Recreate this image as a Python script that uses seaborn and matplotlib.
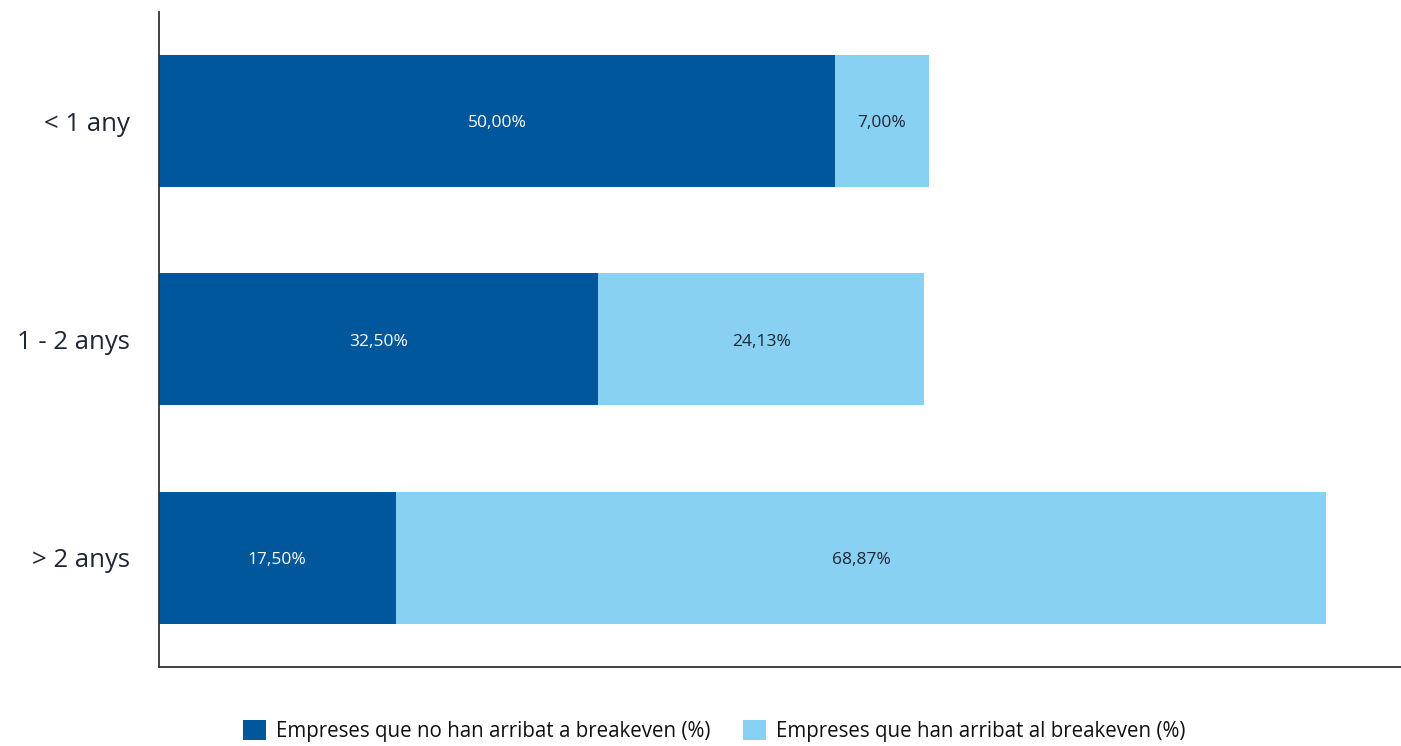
import matplotlib
matplotlib.use("Agg")
import matplotlib.pyplot as plt
import seaborn as sns
import pandas as pd
from matplotlib.patches import Patch

categories = ["< 1 any", "1 - 2 anys", "> 2 anys"]
no_breakeven = [50.00, 32.50, 17.50]
breakeven = [7.00, 24.13, 68.87]
series_names = ["Empreses que no han arribat a breakeven (%)",
                "Empreses que han arribat al breakeven (%)"]

dark = "#01579B"
light = "#89D1F3"

sns.set_theme(style="white")
plt.rcParams["font.family"] = ["Open Sans", "DejaVu Sans"]

df = pd.DataFrame({"cat": categories, "no": no_breakeven, "yes": breakeven})
df["total"] = df["no"] + df["yes"]

fig = plt.figure(figsize=(14.01, 7.46), dpi=100)
ax = fig.add_axes([0.1135, 0.106, 0.8865, 0.878])

# Stacked horizontal bars: full total in light blue, first segment in dark blue on top
sns.barplot(data=df, y="cat", x="total", color=light, orient="h", width=0.605,
            saturation=1, linewidth=0, ax=ax)
sns.barplot(data=df, y="cat", x="no", color=dark, orient="h", width=0.605,
            saturation=1, linewidth=0, ax=ax)

def fmt(v):
    return f"{v:.2f}%".replace(".", ",")

for i, (a, b) in enumerate(zip(no_breakeven, breakeven)):
    ax.text(a / 2, i + 0.01, fmt(a), ha="center", va="center", color="white", fontsize=12.5)
    ax.text(a + b / 2, i + 0.01, fmt(b), ha="center", va="center", color="#1e2533", fontsize=12.5)

ax.set_xlim(0, 91.9)
ax.set_ylim(2.5, -0.5)
ax.set_xlabel("")
ax.set_ylabel("")
ax.set_xticks([])
ax.tick_params(axis="y", length=0, pad=21, labelsize=18.5, labelcolor="#1e2533")

for s in ["top", "right"]:
    ax.spines[s].set_visible(False)
for s in ["left", "bottom"]:
    ax.spines[s].set_color("#333333")
    ax.spines[s].set_linewidth(1.3)

handles = [Patch(facecolor=dark, edgecolor="none"), Patch(facecolor=light, edgecolor="none")]
fig.legend(handles, series_names, loc="center", bbox_to_anchor=(0.51, 0.02), ncol=2,
           frameon=False, fontsize=14.8, handlelength=1.1, handleheight=1.1,
           handletextpad=0.5, columnspacing=1.6, labelcolor="#111111")

fig.savefig("out.png", dpi=100)
